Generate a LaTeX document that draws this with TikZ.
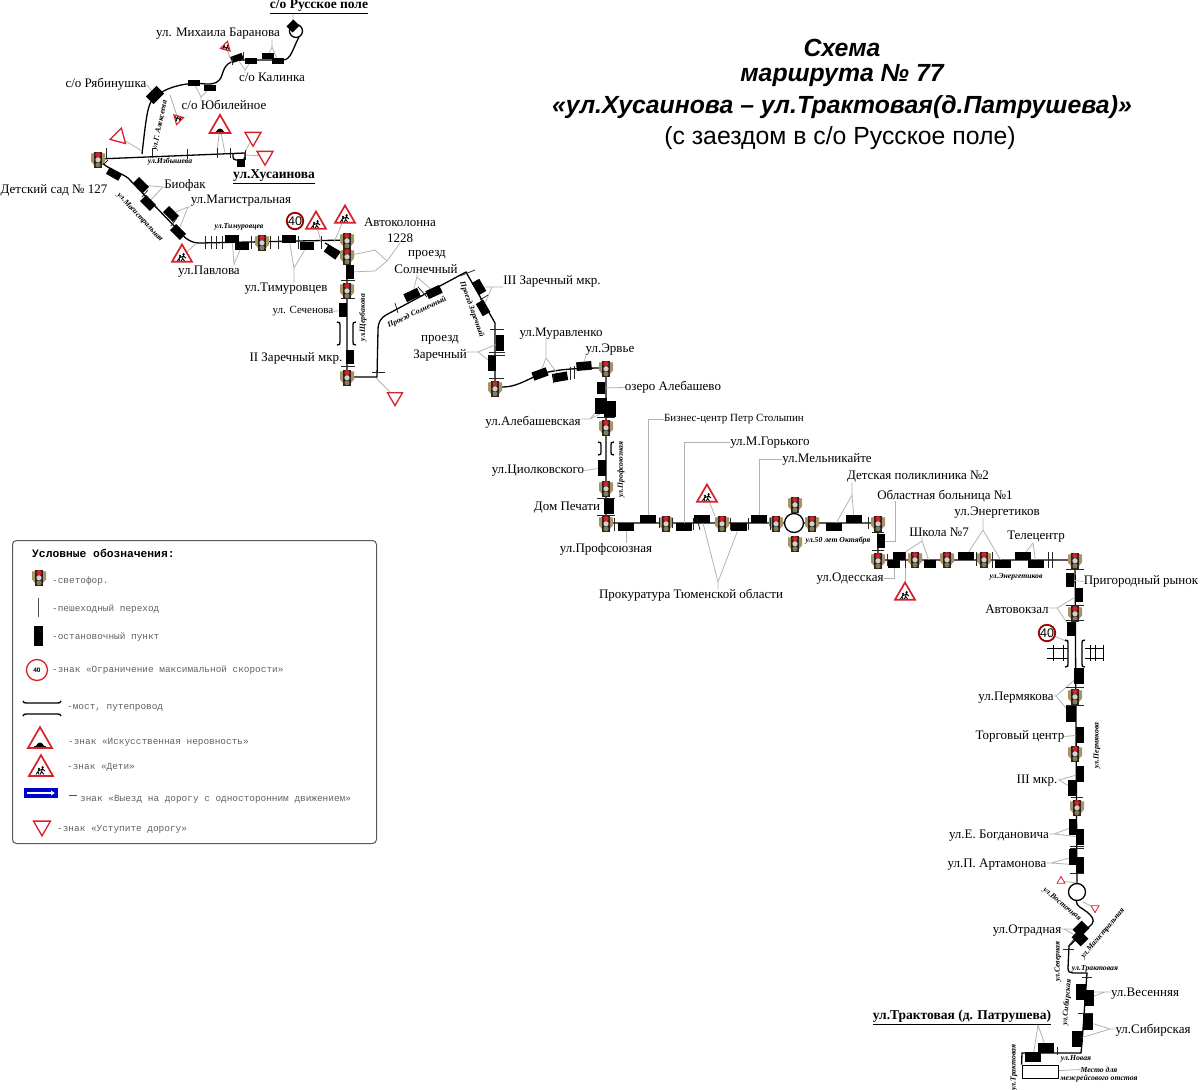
\documentclass[tikz,border=0pt]{standalone}
\usepackage{fontspec}
\setmainfont{Liberation Serif}
\setmonofont{Liberation Mono}
\newfontfamily\titlefont{Liberation Sans}
\usetikzlibrary{shapes.geometric,backgrounds,calc,arrows.meta}
\definecolor{signred}{HTML}{D8202A}
\definecolor{lampwing}{HTML}{A8926A}
\definecolor{lampbody}{HTML}{2E2418}
\tikzset{
	road/.style={line width=1.3pt,black},
	leader/.style={line width=.8pt,black!30},
	tick/.style={line width=.8pt,black!85},
	bridgeline/.style={line width=1.3pt,black},
	stopbox/.style={fill=black,inner sep=0pt,outer sep=0pt},
	lbl/.style={inner sep=0pt,yshift=-1.5pt,font=\fontsize{13}{15}\selectfont},
	sublbl/.style={inner sep=0pt,yshift=-1.5pt,font=\fontsize{11}{13}\selectfont},
	boldlbl/.style={inner sep=0pt,yshift=-1.5pt,font=\bfseries\fontsize{13.5}{15}\selectfont},
	streetlbl/.style={inner sep=0pt,yshift=-.5pt,font=\bfseries\itshape\fontsize{7.7}{9}\selectfont},
	legendlbl/.style={anchor=west,inner sep=0pt,yshift=-1pt,black!62,font=\ttfamily\fontsize{9.4}{11}\selectfont},
	titlelbl/.style={inner sep=0pt,font=\titlefont\bfseries\itshape\fontsize{24.8}{28}\selectfont},
	tlight/.style={inner sep=0pt,minimum width=14pt*#1,minimum height=18pt*#1,
		path picture={\begin{scope}[shift={(path picture bounding box.center)},scale=#1]
			\fill[lampwing] (-7,-5.5) -- (-3,-6) -- (-3,7) -- (-7,2.5) -- cycle (7,-5.5) -- (3,-6) -- (3,7) -- (7,2.5) -- cycle;
			\fill[lampbody] (-4.2,-7.5) rectangle (4.2,9);
			\fill[signred] (0,-4.3) circle (2.6);
			\fill[black!18] (0,.8) circle (2.6);
			\fill[olive!40!black!70] (0,5.8) circle (2.5);
		\end{scope}}},
	tlight/.default=1,
	yieldsign/.style={regular polygon,regular polygon sides=3,shape border rotate=180,draw=signred,line width=1.3pt,fill=white,inner sep=0pt,minimum size=#1*1.155},
	warnsign/.style={regular polygon,regular polygon sides=3,draw=signred,line width=1.7pt,fill=white,inner sep=0pt,minimum size=#1*1.155},
	kidsign/.style={warnsign=#1,path picture={\begin{scope}[shift={(path picture bounding box.center)},scale=#1/20]
			\fill[black] (1.6,-1.8) circle (1.3) (-2,-.2) circle (1.2);
			\draw[black,line width=.9pt] (1.6,-1) -- (.6,2.4) -- (2.8,5.4) (.6,2.4) -- (-.8,5.4) (-2,.6) -- (-3,2.6) -- (-2,5.4) (-3,2.6) -- (-5,5.4) (1.6,0) -- (-2,1.6) (1.6,0) -- (4,2);
		\end{scope}}},
	bumpsign/.style={warnsign=#1,path picture={\begin{scope}[shift={(path picture bounding box.center)},scale=#1/20]
			\fill[black] (-6,5.5) .. controls (-3,5.5) and (-3,1.5) .. (0,1.5) .. controls (3,1.5) and (3,5.5) .. (6,5.5) -- (6,7) -- (-6,7) -- cycle;
		\end{scope}}},
	speedsign/.style={circle,draw=red!60!black,line width=1.8pt,fill=white,inner sep=0pt,minimum size=15pt,font=\titlefont\fontsize{12.5}{13}\selectfont},
}
\begin{document}
\begin{tikzpicture}[x=1pt,y=-1pt]
	\useasboundingbox (0,0) rectangle (1200,1090);
	% title
	\node[titlelbl] (title1) at (842,48) {Схема};
	\node[titlelbl] (title2) at (842,76) {маршрута № 77};
	\node[titlelbl] (title3) at (842,107) {«ул.Хусаинова – ул.Трактовая(д.Патрушева)»};
	\node[inner sep=0pt,yshift=-1pt,font=\titlefont\fontsize{24.8}{28}\selectfont] (title4) at (840,137) {(с заездом в с/о Русское поле)};
	% stops
	\foreach \x/\y/\w/\h/\r [count=\i] in {
		293/26/9/8/45,278/61/11/6/0,268/56/11/6/0,251/61/11/6/0,237/58/11/6/20,210/88/11/6/0,194/83/12/6/0,155/95/14/10/45,241/163/8/7/0,
		114/174/13/7/-30,141/185/13/8/-45,148/203/13/8/-45,171/214/13/8/-45,178/232/13/8/-45,232/239/13/8/0,242/246/13/8/0,289/239/13/8/0,307/246/13/8/0,
		332/252/13/8/-35,350/272/8/13/0,343/310/8/13/0,350/357/8/13/0,412/295/14/8/25,434/292/14/8/25,479/287/13/8/-60,483/308/13/8/-60,500/343/8/14/0,492/363/8/14/0,
		540/374/14/8/20,560/377/14/8/10,584/366/14/8/5,601/388/8/11/0,601/406/11/14/0,610/409/11/14/0,602/468/8/14/0,609/506/9/14/0,
		626/527/15/8/0,648/519/15/8/0,684/527/15/8/0,702/519/15/8/0,739/527/15/8/0,759/519/15/8/0,834/527/15/8/0,854/519/15/8/0,881/541/8/13/0,
		894/564/12/8/0,899/556/12/8/0,930/564/12/8/0,966/556/15/8/0,1003/564/15/8/0,1023/556/15/8/0,1036/564/15/8/0,
		1070/580/8/13/0,1079/595/8/13/0,1071/629/8/13/0,1079/676/9/15/0,1071/714/9/15/0,1080/735/8/15/0,1080/774/8/15/0,1072/788/8/15/0,
		1073/827/8/15/0,1080/837/8/15/0,1073/857/8/15/0,1080/865/8/15/0,1081/929/12/10/45,1080/938/12/10/-45,1081/992/9/14/0,1089/998/9/14/0,1088/1022/10/15/0,1077/1039/10/15/0,1046/1048/14/9/0,1033/1057/14/9/0}
		\node[stopbox,minimum width=\w*1.08,minimum height=\h*1.08,rotate=\r] (s\i) at (\x,\y) {};
	% circles
	\node[circle,draw,line width=1.3pt,fill=white,minimum size=19pt,inner sep=0pt] (ring1) at (794,523) {};
	\node[circle,draw,line width=1.3pt,fill=white,minimum size=17pt,inner sep=0pt] (ring2) at (1077,892) {};
	% traffic lights
	\foreach \x/\y [count=\i] in {98/159,262/242,347/240,347/256,347/290,347/377,495/388,606/368,606/427,606/488,606/523,666/523,722/523,776/523,795/504,812/523,795/543,878/523,878/560,915/559,947/559,984/559,1075/560,1075/613,1075/696,1075/753,1077/807}
		\node[tlight] (tl\i) at (\x,\y) {};
	% signs
	\node[yieldsign=16,shape border rotate=0,rotate=-15] (y1) at (119,137) {};
	\node[yieldsign=16] (y2) at (253,137) {};
	\node[yieldsign=16] (y3) at (265,156) {};
	\node[yieldsign=15] (y4) at (395,397) {};
	\node[yieldsign=8,shape border rotate=0,line width=.8pt] (y5) at (1061,881) {};
	\node[yieldsign=8,line width=.8pt] (y6) at (1095,908) {};
	\node[bumpsign=21] (b1) at (220,127) {};
	\node[kidsign=10,line width=1.1pt,rotate=-15] (k1) at (226,47) {};
	\node[kidsign=10,line width=1.1pt,rotate=165] (k2) at (178,119) {};
	\node[kidsign=20] (k3) at (182,256) {};
	\node[kidsign=20] (k4) at (316,223) {};
	\node[kidsign=20] (k5) at (345,217) {};
	\node[kidsign=20] (k6) at (707,496) {};
	\node[kidsign=20] (k7) at (905,594) {};
	\node[speedsign] (v1) at (295,221) {40};
	\node[speedsign] (v2) at (1047,633) {40};
	% stop names
	\foreach \nm/\x/\y/\txt in {
		lBar/218/32/{ул. Михаила Баранова},lKal/272/76/{с/о Калинка},lRya/106/83/{с/о Рябинушка},lYub/224/103/{с/о Юбилейное},lSad/54/189/{Детский сад № 127},lBio/185/184/{Биофак},
		lMag/241/199/{ул.Магистральная},lPav/209/270/{ул.Павлова},lTim/286/287/{ул.Тимуровцев},lAvtA/400/221/{Автоколонна},lAvtB/400/237/{1228},lSolA/427/253/{проезд},lSolB/426/268/{Солнечный},
		lZarII/296/357/{II Заречный мкр.},lZarIII/552/280/{III Заречный мкр.},lZarA/440/338/{проезд},lZarB/440/354/{Заречный},lMur/561/332/{ул.Муравленко},lErv/610/348/{ул.Эрвье},lOze/673/386/{озеро Алебашево},
		lAle/533/421/{ул.Алебашевская},lTsi/538/469/{ул.Циолковского},lDom/567/506/{Дом Печати},lPrf/606/548/{ул.Профсоюзная},lGor/770/441/{ул.М.Горького},lMel/827/458/{ул.Мельникайте},lPrk/691/594/{Прокуратура Тюменской области},
		lDet/918/475/{Детская поликлиника №2},lObl/945/495/{Областная больница №1},lShk/939/531/{Школа №7},lEne/997/511/{ул.Энергетиков},lTel/1036/535/{Телецентр},lOde/850/577/{ул.Одесская},lPri/1141/580/{Пригородный рынок},
		lAvk/1017/608/{Автовокзал},lPer/1016/696/{ул.Пермякова},lTor/1020/735/{Торговый центр},lMkr/1037/779/{III мкр.},lBog/999/834/{ул.Е. Богдановича},lArt/997/863/{ул.П. Артамонова},lOtr/1027/929/{ул.Отрадная},lVes/1145/992/{ул.Весенняя},lSib/1153/1029/{ул.Сибирская}}
		\node[lbl] (\nm) at (\x,\y) {\txt};
	\node[sublbl] (lSec) at (303,310) {ул. Сеченова};
	\node[sublbl] (lBiz) at (734,418) {Бизнес-центр Петр Столыпин};
	\node[boldlbl] (lRus) at (319,5) {\underline{с/о Русское поле}};
	\node[boldlbl] (lHus) at (274,175) {\underline{ул.Хусаинова}};
	\node[boldlbl] (lTrk) at (962,1016) {\underline{ул.Трактовая (д. Патрушева)}};
	% street names
	\foreach \x/\y/\r/\txt [count=\i] in {
		170/161/0/{ул.Избышева},160/125/78/{ул.Г. Алексеева},140/217/-47/{ул.Магистральная},239/226/0/{ул.Тимуровцев},363/317/90/{ул.Щербакова},417/312/25/{Проезд Солнечный},472/309/-70/{Проезд Заречный},
		621/469/90/{ул.Профсоюзная},838/540/0/{ул.50 лет Октября},1016/576/0/{ул.Энергетиков},1097/745/90/{ул.Пермякова},1062/904/-40/{ул.Восточная},1103/933/50/{ул.Магистральная},1058/961/90/{ул.Северная},
		1095/968/0/{ул.Трактовая},1067/1002/85/{ул.Сибирская},1076/1058/0/{ул.Новая},1014/1067/90/{ул.Трактовая},1099/1069/0/{Место для},1099/1078/0/{межрейсового отстоя}}
		\node[streetlbl,rotate=\r] (st\i) at (\x,\y) {\txt};
	\node[draw,line width=.8pt,minimum width=36,minimum height=13,inner sep=0pt] (rest) at (1040,1071.5) {};
	\begin{scope}[on background layer]
		% route
		\draw[road] (296,31) circle (6.5);
		\draw[road] (299,37) .. controls (293,48) and (291,60) .. (283,60) -- (245,60) .. controls (228,60) and (225,65) .. (222,75) .. controls (219,85) and (210,85) .. (197,83) .. controls (180,84) and (165,88) .. (155,97) .. controls (148,103) and (147,110) .. (142,154);
		\draw[road] (tl1.center) -- (245,153);
		\draw[road,rounded corners=3pt] (233,153) -- (233,160) -- (245,160) -- (245,153);
		\draw[road] (tl1.center) .. controls (108,170) and (120,172) .. (128,178) -- (178,230) .. controls (186,240) and (192,243) .. (200,243) -- (tl3.center);
		\draw[road] (325,243) -- (tl4.center);
		\draw[road] (tl3.center) -- (tl6.center) -- (377,377) -- (378,330) .. controls (378,322) and (381,318) .. (386,315) -- (466,272) -- (495,323) -- (tl7.center);
		\draw[road] (tl7.center) -- (503,387) .. controls (515,387) and (525,381) .. (540,374) .. controls (555,370) and (570,368) .. (tl8.center) -- (tl11.center) -- (ring1);
		\draw[road] (ring1) -- (tl18.center) -- (tl19.center) -- (tl23.center) -- (ring2);
		\draw[road] (ring2) .. controls (1076,906) and (1082,908) .. (1087,912) .. controls (1092,916) and (1095,920) .. (1092,924) -- (1069,946) -- (1068,968) .. controls (1068,972) and (1070,973) .. (1073,973) -- (1087,973) -- (1082,1043) -- (1081,1053) -- (1022,1053) -- (rest.north west);
		% leaders
		\foreach \from/\jx/\jy/\a/\b [count=\i] in {lBar.south/272/47/s3/s2,lKal.north/245/70/s4/s5,lYub.north/201/97/s7/s6,lPav.north/234/264/s15/s16,lTim.north/294/268/s17/s18,lSolB.south/417/277/s23/s24,lMur.south/546/358/s29/s30,lPrk.north/718/582/s40/s41,lDet.south/852/495/s43/s44,lShk.south/922/541/s47/s48,lEne.south/983/530/s49/s50,lTel.south/1033/543/s51/s52,lTrk.south/1038/1025/s71/s72}{
			\coordinate (jv\i) at (\jx,\jy);
			\draw[leader] (\from -| jv\i) -- (jv\i) -- (\a) (jv\i) -- (\b);
		}
		\foreach \from/\jx/\jy/\a/\b [count=\i] in {lBio.west/163/187/s11/s12,lMag.west/188/207/s13/s14,lZarIII.west/492/287/s25/s26,lZarB.east/478/352/s27/s28,lAle.east/590/419/s33/s34,lAvk.east/1057/608/s54/s55,lPer.east/1056/696/s56/s57,lMkr.east/1059/780/s59/s60,lBog.east/1054/834/s61/s62,lArt.east/1051/863/s63/s64,lOtr.east/1064/929/s65/s66,lVes.west/1105/992/s67/s68,lSib.west/1110/1029/s69/s70}{
			\coordinate (jh\i) at (\jx,\jy);
			\draw[leader] (\from |- jh\i) -- (jh\i) -- (\a) (jh\i) -- (\b);
		}
		\draw[leader] (lRus.south -| s1) -- (s1);
		\draw[leader] (lRya.east) -- (s8);
		\draw[leader] (lTsi.east) -- (s35);
		\draw[leader] (lSec.east) -- (s21);
		\draw[leader] (lOze.west) -- (s32);
		\draw[leader] (lPri.west) -- (s53);
		\draw[leader] (lTor.east) -- (s58);
		\draw[leader] (lErv.south west) -- (s31);
		\draw[leader] (lPrf.north -| s37) -- (s37);
		\draw[leader] (s38) |- (lBiz.west);
		\draw[leader] (s39) |- (lGor.west);
		\draw[leader] (s42) |- (lMel.west);
		\coordinate (jObl) at (895,501);
		\draw[leader] (s45) -| (jObl);
		\draw[leader] (lOde.east) -| (s46);
		\draw[leader] (rest) -- (st19.west);
		\coordinate (jAvt) at (387,261);
		\draw[leader] (lAvtB.south) -- (jAvt) -- (375,250) -- (tl4) (jAvt) -- (375,271) -- (s20);
		% sign leaders
		\foreach \a/\ex/\ey [count=\i] in {y1/142/151,y2/245/152,y3/245/155,y4/376/378,y5/1077/883,y6/1083/902,b1/217/152,b1/225/153,k1/232/63,k2/170/95,k3/197/243,k4/321/242,k5/334/242,k6/715/516,k7/905/562,v2/1068/642}{
			\coordinate (e\i) at (\ex,\ey);
			\draw[leader] (\a) -- (e\i);
		}
	\end{scope}
	% crossings
	\foreach \x/\ya/\yb in {106/148/158,152/148/158,187/149/159,217/148/158,230/148/158,245/150/160,243/52/61,232/57/65,
		205/236/249,211/236/249,216/236/249,222/236/249,251/236/249,270/236/249,278/236/249,298/236/249,321/236/249,
		553/375/383,570/367/380,574/366/379,614/518/531,659/518/528,672/518/528,693/518/530,730/518/530,748/518/530,770/518/530,868/517/529,
		887/554/566,905/552/568,976/552/566,992/552/568,1048/552/568,1052/552/568,1057/1047/1055}
		\draw[tick] (\x,\ya) -- (\x,\yb);
	\foreach \y/\xa/\xb in {280/341/355,298/341/355,366/341/355,372/372/385,329/490/504,352/489/505,355/489/505,378/489/504,417/597/615,498/597/615,515/597/615,532/872/884,550/872/884,
		569/1066/1084,605/1066/1084,620/1066/1084,687/1066/1084,705/1066/1084,797/1071/1083,846/1070/1084,848/1070/1084,873/1070/1084,949/1063/1074,977/1082/1092,1013/1078/1093}
		\draw[tick] (\xa,\y) -- (\xb,\y);
	\foreach \xa/\ya/\xb/\yb in {103/165/108/160,142/197/148/190,171/226/177/218,395/303/398/313,418/287/427/297,460/276/475/270,480/300/488/295,1068/947/1074/939,697/518/700/530}
		\draw[tick] (\xa,\ya) -- (\xb,\yb);
	% bridges
	\foreach \xa/\xb/\ya/\yb in {340/353/322/345,601/611/442/455,1068/1082/640/667}{
		\draw[bridgeline] (\xa-3,\ya) .. controls (\xa,\ya) and (\xa,\ya+1) .. (\xa,\ya+3) -- (\xa,\yb-3) .. controls (\xa,\yb-1) and (\xa,\yb) .. (\xa-3,\yb);
		\draw[bridgeline] (\xb+3,\ya) .. controls (\xb,\ya) and (\xb,\ya+1) .. (\xb,\ya+3) -- (\xb,\yb-3) .. controls (\xb,\yb-1) and (\xb,\yb) .. (\xb+3,\yb);
	}
	% railway
	\foreach \y in {648,658}{
		\draw[line width=.9pt] (1047,\y) -- (1068,\y);
		\draw[line width=.9pt] (1085,\y) -- (1103,\y);
	}
	\foreach \x in {1053,1063,1090,1095,1103}
		\draw[line width=.9pt] (\x,645) -- (\x,661);
	% legend
	\node[draw=black!65,line width=1pt,rounded corners=4pt,minimum width=364,minimum height=303,inner sep=0pt,anchor=north west] (legend) at (12,540) {};
	\node[anchor=west,inner sep=0pt,font=\ttfamily\bfseries\fontsize{11.3}{13}\selectfont] (legTitle) at (32,553) {Условные обозначения:};
	\node[tlight=1.2] (legLight) at (39,577) {};
	\coordinate (legTickA) at (38,598);
	\coordinate (legTickB) at (38,617);
	\draw[line width=.6pt,black!70] (legTickA) -- (legTickB);
	\node[stopbox,minimum width=9,minimum height=20] (legStop) at (38,636) {};
	\node[circle,draw=signred,line width=1.3pt,fill=white,minimum size=21pt,inner sep=0pt,font=\titlefont\bfseries\fontsize{6.5}{7}\selectfont] (legSpeed) at (37,670) {40};
	\foreach \y/\s in {703/-1,714/1}
		\draw[bridgeline] (23,\y+\s*2) .. controls (24,\y) .. (27,\y) -- (57,\y) .. controls (60,\y) .. (61,\y+\s*2);
	\node[bumpsign=24] (legBump) at (40,741) {};
	\node[kidsign=24] (legKid) at (41,769) {};
	\node[fill=blue!80!black,minimum width=34,minimum height=10,inner sep=0pt] (legOne) at (41,793) {};
	\draw[white,line width=1.8pt,-{Latex[length=4pt,width=5.5pt]}] (27,793) -- (55,793);
	\node[yieldsign=17,line width=1.3pt] (legYield) at (42,826) {};
	\coordinate (legDashA) at (69,795);
	\coordinate (legDashB) at (77,795);
	\draw[line width=.7pt,black!70] (legDashA) -- (legDashB);
	\foreach \x/\y/\txt [count=\i] in {52/580/{-светофор.},52/608/{-пешеходный переход},52/636/{-остановочный пункт},52/669/{-знак «Ограничение максимальной скорости»},67/707/{-мост, путепровод},68/741/{-знак «Искусственная неровность»},67/766/{-знак «Дети»},80/798/{знак «Выезд на дорогу с односторонним движением»},57/828/{-знак «Уступите дорогу»}}
		\node[legendlbl] (leg\i) at (\x,\y) {\txt};
\end{tikzpicture}
\end{document}
